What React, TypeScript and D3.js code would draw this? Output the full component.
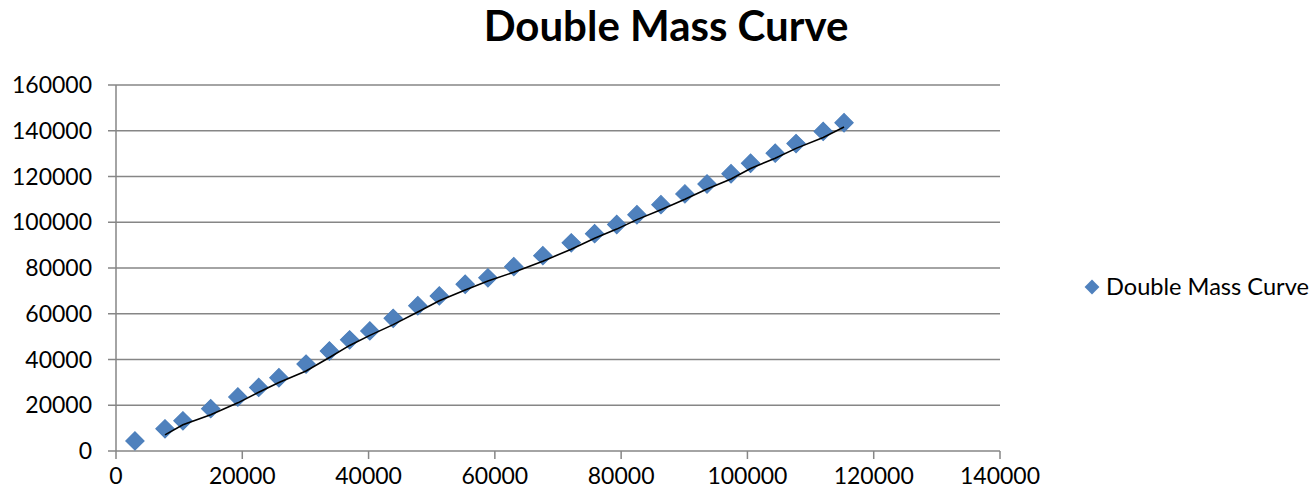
import React from "react";
import * as d3 from "d3";

const xValues = [3000, 7760, 10600, 15000, 19300, 22600, 25800, 30100, 33800, 37000, 40200, 43900, 47800, 51200, 55300, 58900, 63000, 67600, 72100, 75800, 79300, 82500, 86300, 90100, 93600, 97400, 100500, 104400, 107700, 112000, 115300];
const yValues = [4400, 9700, 13200, 18500, 23600, 27800, 32000, 38000, 43700, 48600, 52500, 58000, 63500, 67800, 72900, 75700, 80600, 85400, 91000, 95000, 99000, 103300, 107700, 112400, 116700, 121200, 125800, 130200, 134400, 139700, 143500];
const xTicks = [0, 20000, 40000, 60000, 80000, 100000, 120000, 140000];
const yTicks = [0, 20000, 40000, 60000, 80000, 100000, 120000, 140000, 160000];
const title = "Double Mass Curve";
const seriesName = "Double Mass Curve";

export default function App() {
  const W = 1316, H = 497;
  const left = 116, right = 1000, top = 85, bottom = 451;
  const x = d3.scaleLinear().domain([0, 140000]).range([left, right]);
  const y = d3.scaleLinear().domain([0, 160000]).range([bottom, top]);
  const pts = xValues.map((v, i) => ({ x: v, y: yValues[i] }));
  // 2-period moving average trendline
  const ma = pts.slice(1).map((p, i) => ({ x: p.x, y: (p.y + pts[i].y) / 2 }));
  const line = d3.line<{ x: number; y: number }>().x(d => x(d.x)).y(d => y(d.y));
  const diamond = d3.symbol(d3.symbolSquare, 170)();
  const grid = "#868686";
  const font = "Lato, 'Open Sans', sans-serif";
  return (
    <svg width={W} height={H} style={{ position: "absolute", left: 0, top: 0, background: "#fff" }}>
      <text x={666} y={41} textAnchor="middle" fontFamily={font} fontWeight="bold" fontSize={42} fill="#000">{title}</text>
      {yTicks.map(t => (
        <g key={"y" + t}>
          <line x1={left - 8} x2={right} y1={y(t)} y2={y(t)} stroke={grid} strokeWidth={1.5} />
          <text x={92} y={y(t)} dy="0.35em" textAnchor="end" fontFamily={font} fontSize={23} fill="#000">{t}</text>
        </g>
      ))}
      <line x1={left} x2={left} y1={top} y2={bottom} stroke={grid} strokeWidth={1.5} />
      {xTicks.map(t => (
        <g key={"x" + t}>
          <line x1={x(t)} x2={x(t)} y1={bottom} y2={bottom + 8} stroke={grid} strokeWidth={1.5} />
          <text x={x(t)} y={484} textAnchor="middle" fontFamily={font} fontSize={23} fill="#000">{t}</text>
        </g>
      ))}
      {pts.map((p, i) => (
        <path key={i} d={diamond || ""} transform={`translate(${x(p.x)},${y(p.y)}) rotate(45)`} fill="#4F81BD" stroke="#4A7EBB" strokeWidth={1} />
      ))}
      <path d={line(ma) || ""} fill="none" stroke="#000" strokeWidth={1.6} />
      <path d={d3.symbol(d3.symbolSquare, 110)() || ""} transform="translate(1092,287) rotate(45)" fill="#4F81BD" />
      <text x={1106} y={287} dy="0.35em" fontFamily={font} fontSize={23.6} fill="#000">{seriesName}</text>
    </svg>
  );
}
